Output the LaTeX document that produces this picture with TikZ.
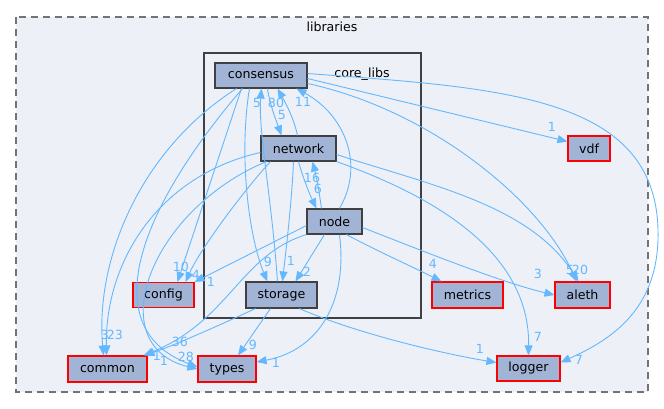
\documentclass[tikz,border=0pt]{standalone}
\usepackage{fontspec}
\setmainfont{DejaVu Sans}
\usetikzlibrary{arrows.meta}
\definecolor{edgeblue}{HTML}{63B8FF}
\definecolor{nodefill}{HTML}{A2B4D6}
\definecolor{clusterfill}{HTML}{EDF0F7}
\definecolor{darkborder}{HTML}{404040}
\tikzset{
  dirbox/.style={draw=darkborder, fill=nodefill, line width=1.1pt, inner sep=0pt, font=\fontsize{12.6}{15}\selectfont},
  extbox/.style={draw=red, fill=nodefill, line width=1.1pt, inner sep=0pt, font=\fontsize{12.6}{15}\selectfont},
  dep/.style={draw=edgeblue, line width=0.9pt, -{Triangle[length=10pt,width=8pt]}},
  cnt/.style={text=edgeblue, inner sep=0pt, font=\fontsize{12.6}{15}\selectfont},
  ttl/.style={inner sep=0pt, font=\fontsize{12.6}{15}\selectfont}
}
\begin{document}
\begin{tikzpicture}[x=1pt,y=-1pt]
\useasboundingbox (0,0) rectangle (664,408);
% clusters
\draw[gray!90!black, line width=1.4pt, dash pattern=on 7pt off 5pt, fill=clusterfill] (16,17) rectangle (648,392);
\node[ttl] (libt) at (332,27) {libraries};
\draw[darkborder, line width=2pt, fill=clusterfill] (204,53) rectangle (421,318);
\node[ttl] (coret) at (362,74) {core\_libs};
% nodes
\node[dirbox, minimum width=92pt, minimum height=25pt] (consensus) at (261,75.5) {consensus};
\node[dirbox, minimum width=75pt, minimum height=25pt] (network) at (298.5,148.5) {network};
\node[dirbox, minimum width=55pt, minimum height=25pt] (node) at (334.5,221.5) {node};
\node[dirbox, minimum width=71pt, minimum height=26pt] (storage) at (281.5,295) {storage};
\node[extbox, minimum width=61pt, minimum height=25pt] (config) at (163.5,295) {config};
\node[extbox, minimum width=79pt, minimum height=26pt] (common) at (107.5,369) {common};
\node[extbox, minimum width=58pt, minimum height=26pt] (types) at (227,369) {types};
\node[extbox, minimum width=63pt, minimum height=25pt] (logger) at (528.5,368.5) {logger};
\node[extbox, minimum width=71pt, minimum height=26pt] (metrics) at (467.5,295) {metrics};
\node[extbox, minimum width=55pt, minimum height=26pt] (aleth) at (582.5,295) {aleth};
\node[extbox, minimum width=42pt, minimum height=25pt] (vdf) at (589,148.5) {vdf};
% edges
\draw[dep] ([xshift=53pt]consensus.south west) .. controls (270,105) and (276,120) .. ([xshift=21pt]network.north west);
\draw[dep] ([xshift=37pt]network.north west) .. controls (294,118) and (284,100) .. ([xshift=63pt]consensus.south west);
\draw[dep] ([xshift=32pt]storage.north west) .. controls (272,200) and (258,130) .. ([xshift=47pt]consensus.south west);
\draw[dep] ([xshift=33pt]node.north west) .. controls (365,165) and (345,115) .. ([xshift=82pt]consensus.south west);
\draw[dep] ([xshift=15pt]node.north west) .. controls (319,190) and (316,175) .. ([xshift=52pt]network.south west);
\draw[dep] ([xshift=38pt]network.south west) .. controls (303,178) and (310,195) .. ([xshift=10pt]node.north west);
\draw[dep] ([xshift=35pt]consensus.south west) .. controls (238,160) and (250,240) .. ([xshift=22pt]storage.north west);
\draw[dep] ([xshift=33pt]network.south west) .. controls (292,200) and (286,250) .. ([xshift=37pt]storage.north west);
\draw[dep] ([xshift=18pt]node.south west) -- ([xshift=50pt]storage.north west);
\draw[dep] ([xshift=27pt]consensus.south west) -- ([xshift=45pt]config.north west);
\draw[dep] ([xshift=10pt]network.south west) .. controls (240,195) and (200,250) .. ([xshift=53pt]config.north west);
\draw[dep] ([yshift=-4pt]node.west) -- (config.north east);
\draw[dep] ([xshift=22pt]consensus.south west) .. controls (140,150) and (95,260) .. ([xshift=-4pt]common.north);
\draw[dep] ([yshift=-4pt]network.west) .. controls (160,175) and (105,260) .. ([xshift=-1pt]common.north);
\draw[dep] ([xshift=28pt]consensus.south west) .. controls (130,220) and (100,330) .. ([yshift=2pt]types.west);
\draw[dep] ([xshift=6pt]network.south west) .. controls (150,210) and (100,345) .. (types.west);
\draw[dep] (node.south west) .. controls (240,255) and (230,320) .. ([xshift=-4pt]common.north east);
\draw[dep] ([xshift=10pt]storage.south west) .. controls (220,325) and (175,345) .. ([xshift=-3pt]common.north east);
\draw[dep] ([xshift=33pt]node.south west) .. controls (348,300) and (320,350) .. ([yshift=7pt]types.east);
\draw[dep] ([xshift=25pt]storage.south west) -- ([xshift=11pt]types.north);
\draw[dep] ([xshift=54pt]storage.south west) .. controls (360,335) and (450,355) .. ([yshift=6pt]logger.west);
\draw[dep] (network.south east) .. controls (430,195) and (530,250) .. (logger.north);
\draw[dep] ([yshift=-6pt]network.east) .. controls (430,185) and (530,205) .. ([xshift=-4pt]aleth.north);
\draw[dep] ([yshift=-8pt]consensus.east) .. controls (430,110) and (540,200) .. ([xshift=-6pt]aleth.north);
\draw[dep] ([yshift=-3pt]consensus.east) -- ([yshift=7pt]vdf.west);
\draw[dep] ([yshift=2pt]consensus.east) .. controls (500,88) and (655,95) .. (658,230) .. controls (660,310) and (610,340) .. ([yshift=6pt]logger.east);
\draw[dep] ([xshift=40pt]node.south west) .. controls (375,250) and (415,268) .. ([xshift=-26pt]metrics.north);
\draw[dep] ([yshift=-6pt]node.east) .. controls (420,250) and (500,282) .. (aleth.west);
% counts
\node[cnt] (c1) at (282,115) {5};
\node[cnt] (c2) at (276,103) {80};
\node[cnt] (c3) at (257,103) {5};
\node[cnt] (c4) at (303,102) {11};
\node[cnt] (c5) at (312,178) {16};
\node[cnt] (c6) at (318,189) {6};
\node[cnt] (c7) at (268,262) {9};
\node[cnt] (c8) at (291,261) {1};
\node[cnt] (c9) at (307,272) {2};
\node[cnt] (c10) at (181,267) {10};
\node[cnt] (c11) at (196,275) {4};
\node[cnt] (c12) at (211,282) {1};
\node[cnt] (c13) at (105,335) {3};
\node[cnt] (c14) at (115,335) {23};
\node[cnt] (c15) at (157,356) {1};
\node[cnt] (c16) at (164,361) {1};
\node[cnt] (c17) at (180,342) {36};
\node[cnt] (c18) at (186,357) {28};
\node[cnt] (c19) at (253,345) {9};
\node[cnt] (c20) at (276,363) {1};
\node[cnt] (c21) at (538,337) {7};
\node[cnt] (c22) at (480,349) {1};
\node[cnt] (c23) at (579,360) {7};
\node[cnt] (c24) at (570,270) {5};
\node[cnt] (c25) at (580,270) {20};
\node[cnt] (c26) at (538,274) {3};
\node[cnt] (c27) at (433,264) {4};
\node[cnt] (c28) at (552,127) {1};
\end{tikzpicture}
\end{document}
